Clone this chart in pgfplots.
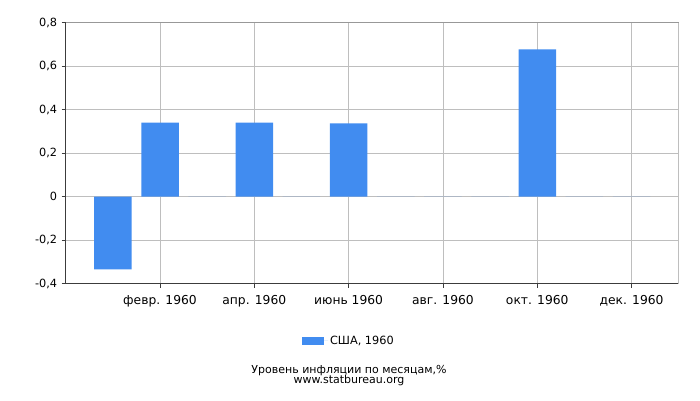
\documentclass[border=0pt]{standalone}
\usepackage{fontspec}
\setmainfont{DejaVu Sans}
\usepackage{pgfplots}
\pgfplotsset{compat=1.18}
\definecolor{barblue}{RGB}{65,140,240}
\definecolor{gridgray}{RGB}{190,190,190}
\definecolor{axisdark}{RGB}{60,60,60}
\begin{document}
\begin{tikzpicture}[x=1bp,y=1bp]
\useasboundingbox (0,0) rectangle (700,400);
\begin{axis}[
  at={(65.7bp,116.5bp)}, anchor=south west,
  scale only axis, width=613bp, height=261bp,
  xmin=0, xmax=13, ymin=-0.4, ymax=0.8,
  axis lines*=left,
  axis line style={axisdark, line width=0.8pt},
  xtick={2,4,6,8,10,12},
  xticklabels={февр. 1960, апр. 1960, июнь 1960, авг. 1960, окт. 1960, дек. 1960},
  ytick={-0.4,-0.2,0,0.2,0.4,0.6,0.8},
  yticklabels={{-0,4},{-0,2},{0},{0,2},{0,4},{0,6},{0,8}},
  tick style={axisdark, line width=0.8pt},
  tick align=outside, major tick length=4bp,
  xticklabel style={font=\fontsize{12.3bp}{14bp}\selectfont, yshift=-4bp},
  yticklabel style={font=\fontsize{11.3bp}{13bp}\selectfont, xshift=-1bp},
  grid=major,
  major grid style={gridgray, line width=0.8pt},
  ybar, bar width=37.5bp,
  legend style={at={(0.462,-0.22)}, anchor=center, draw=none,
    font=\fontsize{11.3bp}{13bp}\selectfont},
  legend image code/.code={\fill[barblue] (0bp,-4bp) rectangle (22bp,4bp); \path (0bp,0bp) -- (26bp,0bp);},
  after end axis/.code={\draw[gridgray, line width=0.8pt] (rel axis cs:1,0) -- (rel axis cs:1,1);
    \draw[gridgray!80!black, line width=0.8pt] (rel axis cs:0,1) -- (rel axis cs:1,1);},
]
\addplot[fill=barblue, draw=none] coordinates {
 (1,-0.335) (2,0.34) (3,0) (4,0.34) (5,0) (6,0.336) (7,0) (8,0) (9,0) (10,0.677) (11,0) (12,0)};
\addlegendentry{США, 1960}
\end{axis}
\node[font=\fontsize{11bp}{12bp}\selectfont] at (349,29.3) {Уровень инфляции по месяцам,\%};
\node[font=\fontsize{11bp}{12bp}\selectfont] at (349,19.5) {www.statbureau.org};
\end{tikzpicture}
\end{document}
